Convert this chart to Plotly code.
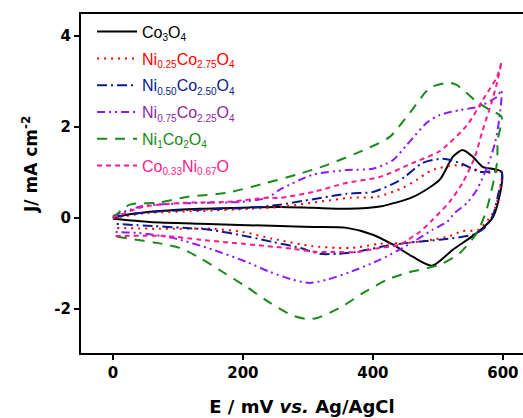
import plotly.graph_objects as go

# ---- data (E in mV, J in mA cm^-2), closed CV loops: anodic then cathodic ----
co3o4_E = [0, 26, 72, 134, 211, 257, 308, 360, 411, 462, 503, 523, 538, 554, 569, 598,
           585, 560, 523, 491, 462, 431, 400, 360, 308, 257, 134, 57, 0]
co3o4_J = [0.0, 0.08, 0.15, 0.2, 0.23, 0.24, 0.22, 0.2, 0.25, 0.46, 0.84, 1.34, 1.49, 1.34, 1.12, 1.01,
           0.02, -0.33, -0.70, -1.05, -0.86, -0.59, -0.37, -0.22, -0.20, -0.18, -0.13, -0.09, -0.02]

ni025_E = [0, 57, 134, 211, 257, 365, 406, 446, 468, 491, 534, 575, 598,
           592, 583, 562, 538, 518, 492, 452, 411, 369, 346, 306, 246, 200, 154, 72, 0]
ni025_J = [0.0, 0.11, 0.15, 0.20, 0.24, 0.44, 0.46, 0.66, 0.84, 1.05, 1.16, 0.99, 1.01,
           0.40, 0.07, -0.26, -0.29, -0.40, -0.48, -0.55, -0.57, -0.66, -0.66, -0.62, -0.46, -0.31, -0.24, -0.24, -0.22]

ni050_E = [0, 57, 134, 211, 257, 360, 400, 437, 449, 477, 508, 537, 565, 598,
           592, 585, 572, 554, 503, 452, 411, 375, 345, 318, 288, 246, 211, 149, 108, 62, 0]
ni050_J = [0.02, 0.13, 0.18, 0.22, 0.29, 0.53, 0.57, 0.79, 0.90, 1.21, 1.30, 1.19, 1.01, 1.01,
           0.46, 0.07, -0.22, -0.37, -0.48, -0.55, -0.64, -0.75, -0.79, -0.79, -0.66, -0.53, -0.42, -0.26, -0.22, -0.18, -0.13]

ni075_E = [0, 46, 134, 195, 237, 257, 308, 360, 400, 431, 452, 483, 503, 534, 562, 591, 598,
           595, 588, 577, 560, 545, 526, 514, 492, 472, 446, 411, 365, 329, 303, 277, 242, 206, 154, 92, 37, 0]
ni075_J = [0.04, 0.26, 0.33, 0.35, 0.44, 0.62, 0.95, 1.05, 1.08, 1.27, 1.60, 2.09, 2.26, 2.37, 2.44, 2.66, 2.81,
           2.22, 1.65, 1.16, 0.62, 0.33, 0.11, -0.09, -0.26, -0.44, -0.66, -0.92, -1.19, -1.36, -1.43, -1.36,
           -1.19, -0.97, -0.70, -0.44, -0.33, -0.31]

ni1_E = [0, 26, 68, 114, 175, 237, 283, 329, 391, 426, 457, 488, 518, 529, 560, 580, 598,
         592, 591, 575, 560, 534, 503, 452, 422, 385, 349, 314, 298, 277, 242, 206, 169, 134, 103, 68, 26, 0]
ni1_J = [0.0, 0.29, 0.33, 0.46, 0.55, 0.77, 0.95, 1.16, 1.52, 1.78, 2.31, 2.86, 2.97, 2.92, 2.55, 2.37, 2.22,
         1.71, 1.21, 0.18, -0.33, -0.77, -1.03, -1.21, -1.36, -1.65, -1.98, -2.20, -2.22, -2.15, -1.87,
         -1.52, -1.19, -0.88, -0.66, -0.55, -0.46, -0.40]

coni_E = [0, 46, 108, 175, 237, 257, 308, 360, 411, 462, 503, 545, 569, 591, 598,
          591, 583, 569, 557, 538, 518, 492, 472, 454, 442, 411, 375, 338, 314, 277, 237, 185, 134, 83, 0]
coni_J = [0.0, 0.24, 0.33, 0.35, 0.44, 0.44, 0.57, 0.77, 0.90, 1.21, 1.47, 2.04, 2.59, 3.10, 3.43,
          2.97, 2.55, 1.93, 1.34, 0.77, 0.35, -0.04, -0.31, -0.48, -0.59, -0.66, -0.75, -0.75, -0.75,
          -0.68, -0.62, -0.55, -0.48, -0.40, -0.40]

x_ticks = [0, 200, 400, 600]
y_ticks = [-2, 0, 2, 4]


def sub(s):
    return f'<sub><span style="font-size:10px">{s}</span></sub>'


series = [
    ("Co" + sub("3") + "O" + sub("4"), co3o4_E, co3o4_J, "black", "solid"),
    ("Ni" + sub("0.25") + "Co" + sub("2.75") + "O" + sub("4"), ni025_E, ni025_J, "#ff0000", "2px,5px"),
    ("Ni" + sub("0.50") + "Co" + sub("2.50") + "O" + sub("4"), ni050_E, ni050_J, "#0b1a8c", "10px,4px,2px,4px"),
    ("Ni" + sub("0.75") + "Co" + sub("2.25") + "O" + sub("4"), ni075_E, ni075_J, "#8b1aff", "8px,4px,2px,4px,2px,4px"),
    ("Ni" + sub("1") + "Co" + sub("2") + "O" + sub("4"), ni1_E, ni1_J, "#1a8a1a", "10px,8px"),
    ("Co" + sub("0.33") + "Ni" + sub("0.67") + "O", coni_E, coni_J, "#ff1a8c", "5px,4px"),
]
legend_text_colors = ["black", "#ff0000", "#0b1a8c", "#8b2a9a", "#1a8a1a", "#ff1a8c"]

fig = go.Figure()
for i, ((name, E, J, col, dash), tcol) in enumerate(zip(series, legend_text_colors)):
    fig.add_trace(go.Scatter(
        x=E, y=J, mode="lines", legendgroup=f"g{i}",
        name=f'<span style="color:{tcol}">{name}</span>',
        line=dict(color=col, width=2, dash=dash, shape="spline", smoothing=0.7),
    ))

bold_font = "DejaVu Sans, sans-serif"
axis_font = dict(family=bold_font, size=15, color="black")
fig.update_layout(
    width=523, height=418,
    margin=dict(l=81, r=0, t=14, b=65),
    paper_bgcolor="white", plot_bgcolor="white",
    font=dict(family="Arial, Liberation Sans, sans-serif", color="black"),
    showlegend=True,
    legend=dict(x=0.025, y=0.998, xanchor="left", yanchor="top",
                bgcolor="rgba(0,0,0,0)", font=dict(size=16, family="Arial, Liberation Sans, sans-serif"),
                tracegroupgap=3, itemwidth=40),
    xaxis=dict(range=[-49, 631], tickvals=x_ticks, ticktext=[f"<b>{v}</b>" for v in x_ticks],
               showline=True, linecolor="black", linewidth=2, mirror=True,
               ticks="outside", ticklen=5, tickwidth=2, tickcolor="black",
               showgrid=False, zeroline=False, tickfont=axis_font,
               title=dict(text="<b>E / mV <i>vs.</i> Ag/AgCl</b>",
                          font=dict(size=18, family=bold_font), standoff=19)),
    yaxis=dict(range=[-2.97, 4.48], tickvals=y_ticks, ticktext=[f"<b>{v}</b>" for v in y_ticks],
               showline=True, linecolor="black", linewidth=2, mirror=False,
               ticks="outside", ticklen=5, tickwidth=2, tickcolor="black",
               showgrid=False, zeroline=False, tickfont=axis_font),
    annotations=[dict(text="<b>J/ mA cm<sup>-2</sup></b>", textangle=-90,
                      xref="paper", yref="paper", x=-0.115, y=0.555,
                      xanchor="center", yanchor="middle", showarrow=False,
                      font=dict(size=17, family=bold_font, color="black"))],
)

fig.write_html("out.html")
